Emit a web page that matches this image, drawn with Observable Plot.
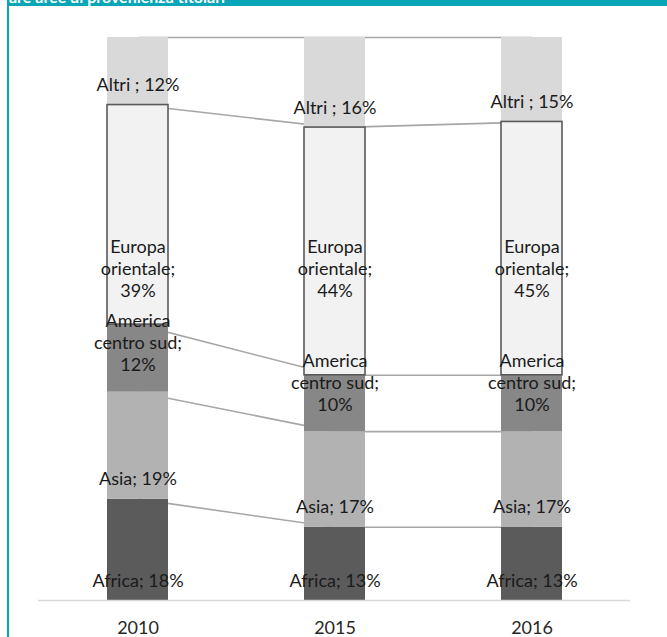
<!DOCTYPE html>
<html>
<head>
<meta charset="utf-8">
<script src="https://cdn.jsdelivr.net/npm/d3@7"></script>
<script src="https://cdn.jsdelivr.net/npm/@observablehq/plot@0.6"></script>
<style>
  html, body { margin: 0; padding: 0; background: #fff; }
  #wrap { position: relative; width: 667px; height: 637px; overflow: hidden; }
  #band { position: absolute; left: 7px; top: 0; width: 660px; height: 6px; background: #08a6b6; overflow: hidden; }
  #band span { position: absolute; left: 2px; top: -12px; font: bold 16px Lato, sans-serif; color: #fff; white-space: nowrap; line-height: 17px; }
  #leftline { position: absolute; left: 7px; top: 0; width: 2px; height: 637px; background: #08a6b6; }
  #chart { position: absolute; left: 0; top: 0; }
</style>
</head>
<body>
<div id="wrap">
  <div id="chart"></div>
  <div id="leftline"></div>
  <div id="band"><span>are aree di provenienza titolari</span></div>
</div>
<script>
// ---- data ----
const years = ["2010", "2015", "2016"];
const series = ["Africa", "Asia", "America centro sud", "Europa orientale", "Altri"];
const labelNames = ["Africa;", "Asia;", "America\ncentro sud;", "Europa\norientale;", "Altri ;"];
const africa  = [18, 13, 13];
const asia    = [19, 17, 17];
const america = [12, 10, 10];
const europa  = [39, 44, 45];
const altri   = [12, 16, 15];
const values = [africa, asia, america, europa, altri];

// ---- styles ----
const fills = ["#5b5b5b", "#b2b2b2", "#878787", "#f2f2f2", "#d9d9d9"];
const euroLabelAt = 59;

// build stacked table
const rows = [];
years.forEach((yr, j) => {
  let acc = 0;
  series.forEach((s, i) => {
    const v = values[i][j];
    rows.push({year: yr, series: s, si: i, value: v, y1: acc, y2: acc + v,
      label: labelNames[i] + (i === 0 || i === 1 || i === 4 ? " " : "\n") + v + "%"});
    acc += v;
  });
});

// connector lines between consecutive years at each segment top
const links = [];
series.forEach((s, i) => {
  for (let j = 0; j < years.length - 1; j++) {
    const a = rows.find(r => r.year === years[j] && r.si === i);
    const b = rows.find(r => r.year === years[j + 1] && r.si === i);
    links.push({x1: a.year, x2: b.year, y1: a.y2, y2: b.y2});
  }
});

const single = rows.filter(r => r.si === 0 || r.si === 1 || r.si === 4);
const amer = rows.filter(r => r.si === 2);
const euro = rows.filter(r => r.si === 3);

const font = "Lato, sans-serif";
const chart = Plot.plot({
  width: 667,
  height: 637,
  marginLeft: 38,
  marginRight: 37,
  marginTop: 37,
  marginBottom: 37,
  style: {fontFamily: font, fontSize: "18px", color: "#262626", background: "transparent"},
  x: {domain: years, padding: 0, label: null, tickSize: 0, tickPadding: 21},
  y: {domain: [0, 100], axis: null},
  marks: [
    Plot.link(links, {x1: "x1", x2: "x2", y1: "y1", y2: "y2", stroke: "#a6a6a6", strokeWidth: 1.6}),
    Plot.barY(rows, {x: "year", y1: "y1", y2: "y2", fill: d => fills[d.si], insetLeft: 68, insetRight: 68}),
    Plot.barY(euro, {x: "year", y1: "y1", y2: "y2", fill: "none", stroke: "#595959", strokeWidth: 1.6, insetLeft: 68, insetRight: 68}),
    Plot.ruleY([0], {stroke: "#d9d9d9", strokeWidth: 1.6}),
    Plot.text(single, {x: "year", y: "y1", text: "label", dy: -21, lineAnchor: "middle", fontSize: 18, fill: "#1a1a1a", lineHeight: 1.22}),
    Plot.text(amer, {x: "year", y: "y1", text: "label", dy: -50, lineAnchor: "middle", fontSize: 18, fill: "#1a1a1a", lineHeight: 1.22}),
    Plot.text(euro, {x: "year", y: () => euroLabelAt, text: "label", lineAnchor: "middle", fontSize: 18, fill: "#1a1a1a", lineHeight: 1.22})
  ]
});
document.getElementById("chart").appendChild(chart);
</script>
</body>
</html>
